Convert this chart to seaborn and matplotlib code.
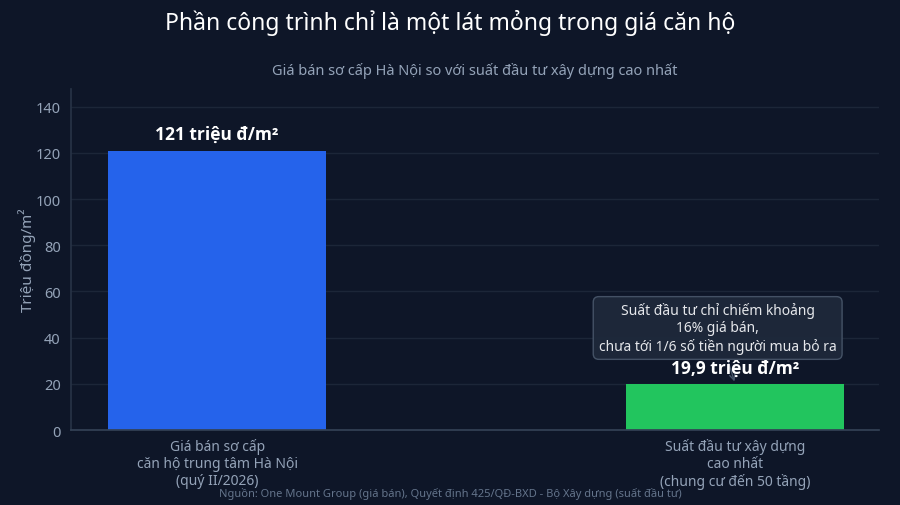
import pandas as pd
import seaborn as sns
import matplotlib.pyplot as plt

# Data
categories = [
    "Giá bán sơ cấp\ncăn hộ trung tâm Hà Nội\n(quý II/2026)",
    "Suất đầu tư xây dựng\ncao nhất\n(chung cư đến 50 tầng)",
]
values = [121, 19.9]
value_labels = ["121 triệu đ/m²", "19,9 triệu đ/m²"]
bar_colors = ["#2563eb", "#22c55e"]

bg = "#0e1628"
grid = "#1c2638"
muted = "#94a3b8"

df = pd.DataFrame({"cat": categories, "val": values})

sns.set_theme(style="dark")
plt.rcParams["font.family"] = ["Noto Sans", "DejaVu Sans"]

fig, ax = plt.subplots(figsize=(9, 5.06), dpi=100)
fig.patch.set_facecolor(bg)
ax.set_facecolor(bg)

sns.barplot(
    data=df, x="cat", y="val", hue="cat", palette=bar_colors,
    width=0.42, legend=False, saturation=1, linewidth=0, ax=ax,
)

ax.set_xlim(-0.282, 1.278)
ax.set_ylim(0, 147.6)
ax.set_yticks(range(0, 141, 20))
ax.grid(axis="y", color=grid, linewidth=1)
ax.set_axisbelow(True)
for s in ["top", "right"]:
    ax.spines[s].set_visible(False)
ax.spines["left"].set_color("#273245")
ax.spines["bottom"].set_color("#334155")
ax.tick_params(colors=muted, labelsize=10.5, length=4, color="#475569")
ax.tick_params(axis="x", labelsize=10, pad=1.5)
ax.set_xlabel("")
ax.set_ylabel("Triệu đồng/m²", color=muted, fontsize=11)
ax.yaxis.set_label_coords(-0.043, 0.5)

# callout on the second bar
ax.annotate(
    "Suất đầu tư chỉ chiếm khoảng\n16% giá bán,\nchưa tới 1/6 số tiền người mua bỏ ra",
    xy=(1, values[1]), xytext=(0.966, 44.2), ha="center", va="center",
    fontsize=10, color="#e5e7eb", linespacing=1.2,
    bbox=dict(boxstyle="round,pad=0.4", fc="#1e293b", ec="#475569", alpha=0.95),
    arrowprops=dict(arrowstyle="->", color="#475569", lw=1),
    zorder=3,
)

# value labels above bars
for i, (v, lab) in enumerate(zip(values, value_labels)):
    ax.annotate(lab, (i, v), xytext=(0, 12), textcoords="offset points",
                ha="center", va="center", color="white", fontsize=12.5,
                fontweight="bold", family=["Open Sans", "Noto Sans", "DejaVu Sans"],
                zorder=4)

fig.text(0.5, 0.955, "Phần công trình chỉ là một lát mỏng trong giá căn hộ",
         ha="center", va="center", color="white", fontsize=16.5)
ax.set_title("Giá bán sơ cấp Hà Nội so với suất đầu tư xây dựng cao nhất",
             color=muted, fontsize=10.5, pad=11)
fig.text(0.5, 0.024,
         "Nguồn: One Mount Group (giá bán), Quyết định 425/QĐ-BXD - Bộ Xây dựng (suất đầu tư)",
         ha="center", va="center", color="#64748b", fontsize=8)

fig.subplots_adjust(left=0.079, right=0.977, top=0.822, bottom=0.148)
fig.savefig("out.png", facecolor=bg)
